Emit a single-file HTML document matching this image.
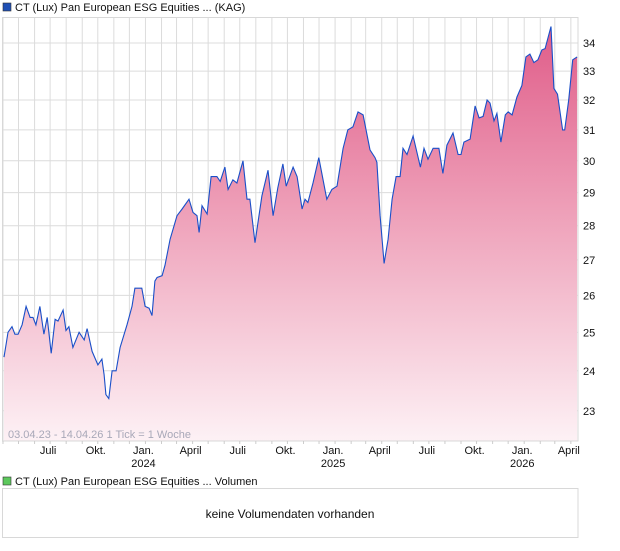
<!DOCTYPE html>
<html><head><meta charset="utf-8"><style>
body{margin:0;background:#fff;font-family:"Liberation Sans",sans-serif;}
svg text{font-family:"Liberation Sans",sans-serif;}
</style></head><body>
<svg width="620" height="546" viewBox="0 0 620 546" xmlns="http://www.w3.org/2000/svg">
<defs>
<linearGradient id="fillg" gradientUnits="userSpaceOnUse" x1="0" y1="20" x2="0" y2="441">
<stop offset="0" stop-color="#df5a87"/>
<stop offset="0.45" stop-color="#ee9fb8"/>
<stop offset="1" stop-color="#fdf1f5"/>
</linearGradient>
</defs>
<rect x="3" y="3" width="8" height="8" fill="#1f4fb4" stroke="#333" stroke-width="0.6"/>
<text x="15" y="11" font-size="11" fill="#111">CT (Lux) Pan European ESG Equities ... (KAG)</text>
<g id="grid"></g>
<path id="area" fill="url(#fillg)"/>
<path id="line" fill="none" stroke="#1a4fc8" stroke-width="1.1"/>
<rect x="2.5" y="17.5" width="575.5" height="423.5" fill="none" stroke="#d8d8d8"/>
<g id="yaxis"></g>
<g id="xaxis"></g>
<text x="8" y="438" font-size="11" fill="#a8a8b8">03.04.23 - 14.04.26   1 Tick = 1 Woche</text>
<rect x="3" y="477" width="8" height="8" fill="#5cc85c" stroke="#333" stroke-width="0.6"/>
<text x="15" y="485" font-size="11" fill="#111">CT (Lux) Pan European ESG Equities ... Volumen</text>
<rect x="2.5" y="488.5" width="575.5" height="49" fill="#fff" stroke="#d8d8d8"/>
<text x="290" y="518" font-size="12" fill="#111" text-anchor="middle">keine Volumendaten vorhanden</text>
</svg>
<script>
const weeks=[0,0.6,1.1,2.2,3.0,3.9,5.0,6.1,7.2,8.0,8.8,9.9,11.0,11.9,13.0,14.1,14.9,16.3,17.1,17.9,19.0,20.7,22.1,22.9,24.3,25.9,27.0,27.6,28.1,28.9,29.8,30.9,32.0,33.9,35.3,36.1,38.0,38.9,40.0,40.8,41.6,42.2,43.6,44.4,45.8,47.7,49.1,51.0,52.1,53.2,53.8,54.6,56.0,57.1,58.7,59.6,60.9,61.8,63.1,64.2,65.9,67.0,67.8,69.2,71.1,72.8,74.2,75.5,76.9,77.8,79.7,80.8,82.2,83.0,83.8,85.2,86.8,89.0,90.4,91.8,93.5,94.8,96.2,97.6,99.0,100.9,102.3,102.8,103.7,104.8,105.9,107.0,108.1,109.2,110.0,111.1,112.8,114.8,115.8,116.9,118.3,119.9,121.0,122.1,123.8,125.2,126.0,126.8,128.5,129.9,131.0,132.1,133.2,134.0,135.1,135.9,137.0,138.2,139.0,140.1,141.4,142.8,143.9,145.0,146.1,147.2,148.3,149.2,150.8,151.6,152.6,154.0,154.6,155.7,156.8,158.0];
const prices=[24.35,24.7,25.0,25.15,24.95,24.95,25.2,25.7,25.4,25.4,25.2,25.7,24.95,25.4,24.45,25.35,25.3,25.6,25.05,25.15,24.6,25.0,24.8,25.1,24.5,24.15,24.3,23.9,23.4,23.3,24.0,24.0,24.6,25.2,25.7,26.2,26.2,25.7,25.65,25.45,26.4,26.5,26.55,26.85,27.6,28.3,28.5,28.8,28.4,28.3,27.8,28.6,28.35,29.5,29.5,29.35,29.8,29.1,29.4,29.3,30.0,28.8,28.8,27.5,28.9,29.7,28.3,29.15,29.9,29.2,29.8,29.5,28.5,28.8,28.7,29.3,30.1,28.8,29.1,29.2,30.4,31.0,31.1,31.6,31.5,30.35,30.1,29.95,28.3,26.9,27.6,28.8,29.5,29.5,30.4,30.2,30.8,29.8,30.4,30.05,30.4,30.4,29.6,30.5,30.9,30.2,30.2,30.6,30.7,31.8,31.4,31.45,32.0,31.9,31.3,31.55,30.6,31.5,31.6,31.5,32.1,32.5,33.5,33.6,33.3,33.4,33.75,33.8,34.6,32.4,32.2,31.0,31.0,32.0,33.4,33.5];
const yTicks=[23,24,25,26,27,28,29,30,31,32,33,34];
const xLabels=["Juli","Okt.","Jan.","April","Juli","Okt.","Jan.","April","Juli","Okt.","Jan.","April"];
const xLabelYears=["","","2024","","","","2025","","","","2026",""];
const labelMonths=[3,6,9,12,15,18,21,24,27,30,33,36]; // months after April 2023
const NS="http://www.w3.org/2000/svg";
const X0=4,PXW=3.627,Y34=43,K=941,TOP=17.5,BOT=441;
function xw(w){return X0+w*PXW;}
function yv(v){return Y34+K*Math.log(34/v);}
function xMonth(m){const d=new Date(Date.UTC(2023,3+m,1));const days=(d-Date.UTC(2023,3,3))/864e5;return xw(days/7);}
function mk(tag,attrs,parent){const e=document.createElementNS(NS,tag);for(const k in attrs)e.setAttribute(k,attrs[k]);parent.appendChild(e);return e;}
const grid=document.getElementById('grid'),ya=document.getElementById('yaxis'),xa=document.getElementById('xaxis');
for(let m=0;m<=37;m++){const x=xMonth(m);if(x<2||x>578)continue;
 const l=mk('line',{x1:x,x2:x,y1:TOP,y2:BOT,stroke:'#dcdcdc','stroke-width':1},grid);
 
 
 const t=mk('line',{x1:x,x2:x,y1:BOT,y2:BOT+3,stroke:'#ccc','stroke-width':1},xa);
 
 }
yTicks.forEach(v=>{const y=yv(v);
 const l=mk('line',{x1:2,x2:578,y1:y,y2:y,stroke:'#dcdcdc','stroke-width':1},grid);
 
 
 const t=mk('text',{x:583,y:y+4,'font-size':11,fill:'#111'},ya);t.textContent=v;
 
 });
labelMonths.forEach((m,i)=>{const x=xMonth(m);
 const t=mk('text',{x:x-2,y:454,'font-size':11,fill:'#111','text-anchor':'middle'},xa);t.textContent=xLabels[i];
 
 
 if(xLabelYears[i]){const t2=mk('text',{x:x-2,y:467,'font-size':11,fill:'#111','text-anchor':'middle'},xa);t2.textContent=xLabelYears[i];
 
 }});
let d='';weeks.forEach((w,i)=>{d+=(i?'L':'M')+xw(w).toFixed(1)+','+yv(prices[i]).toFixed(1);});
document.getElementById('line').setAttribute('d',d);
document.getElementById('area').setAttribute('d',d+'L'+xw(weeks[weeks.length-1]).toFixed(1)+','+BOT+'L'+xw(weeks[0]).toFixed(1)+','+BOT+'Z');
</script>
</body></html>
